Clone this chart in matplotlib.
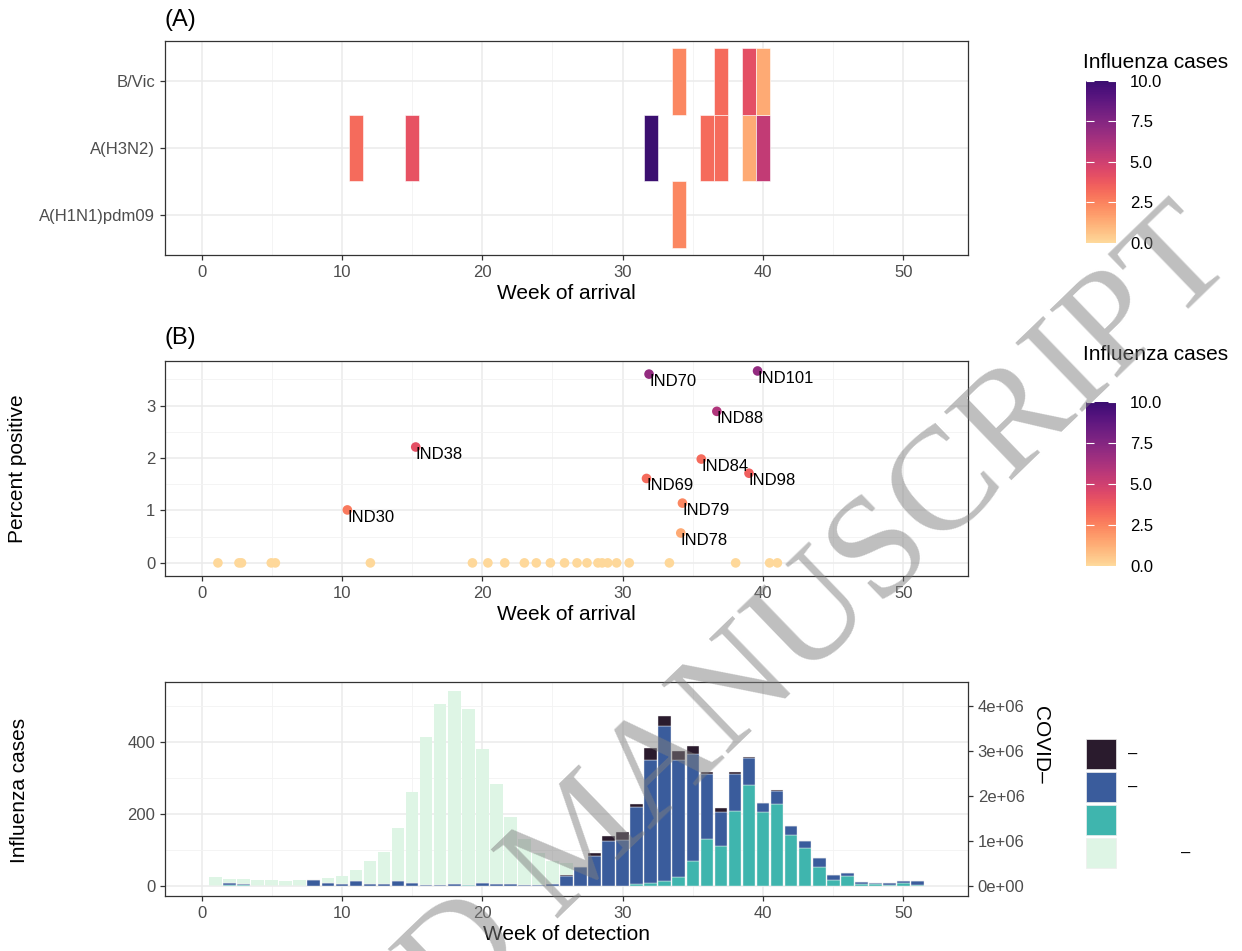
import matplotlib.pyplot as plt
import numpy as np
from matplotlib.colors import ListedColormap, Normalize
from matplotlib.cm import ScalarMappable
from matplotlib.patches import Rectangle

plt.rcParams['font.family'] = ['Liberation Sans', 'DejaVu Sans']

# ---- data ----
# (A) tiles: subtype x week of arrival, filled by number of influenza cases
subtypes = ["A(H1N1)pdm09", "A(H3N2)", "B/Vic"]
tile_subtype = ["A(H1N1)pdm09",
                "A(H3N2)", "A(H3N2)", "A(H3N2)", "A(H3N2)", "A(H3N2)", "A(H3N2)", "A(H3N2)",
                "B/Vic", "B/Vic", "B/Vic", "B/Vic"]
tile_week = [34, 11, 15, 32, 36, 37, 39, 40, 34, 37, 39, 40]
tile_cases = [2.4, 3.2, 4.1, 10, 3.2, 3.2, 1.4, 5.4, 2.4, 3.2, 4.2, 1.4]

# (B) percent positive by week of arrival
pt_week = [1.17, 2.67, 2.85, 4.97, 5.26, 12.03, 19.3, 20.4, 21.6, 23.0, 23.85, 24.85,
           25.86, 26.75, 27.46, 28.24, 28.54, 28.94, 29.57, 30.47, 33.33, 38.05, 40.47, 41.02,
           31.88, 39.61, 36.71, 15.26, 35.6, 39.0, 31.7, 34.26, 10.39, 34.14]
pt_pct = [0] * 24 + [3.6, 3.66, 2.89, 2.21, 1.98, 1.71, 1.61, 1.14, 1.01, 0.57]
pt_cases = [0] * 24 + [7, 7, 6, 4.2, 3.2, 3.6, 3.2, 2.4, 2.8, 1.4]
pt_label = [""] * 24 + ["IND70", "IND101", "IND88", "IND38", "IND84", "IND98",
                        "IND69", "IND79", "IND30", "IND78"]

# (C) weekly detections
weeks = list(range(1, 52))
flu_teal = [0, 3, 2, 0, 0, 0, 0, 0, 0, 0, 0, 0, 0, 0, 0, 0, 0, 0, 2, 0,
            0, 0, 0, 0, 0, 0, 0, 0, 0, 0, 5, 9, 15, 26, 69, 132, 112, 208, 281, 206,
            227, 141, 106, 54, 18, 28, 5, 7, 4, 10, 3]
flu_blue = [0, 5, 3, 0, 0, 0, 0, 18, 9, 7, 13, 5, 6, 15, 9, 4, 4, 5, 0, 8,
            6, 6, 3, 2, 6, 27, 54, 85, 124, 129, 214, 341, 429, 324, 299, 179, 94, 103, 75, 24,
            38, 27, 20, 25, 13, 9, 6, 3, 4, 5, 12]
flu_black = [0, 2, 0, 0, 0, 1, 0, 0, 0, 0, 0, 0, 0, 0, 0, 0, 0, 1, 0, 1,
             0, 0, 0, 1, 1, 5, 0, 6, 14, 21, 9, 33, 29, 26, 20, 5, 12, 5, 2, 2,
             1, 0, 0, 0, 0, 0, 0, 0, 0, 0, 0]
covid = [200000, 168000, 148000, 141000, 126000, 118000, 134000, 136000, 176000, 224000,
         348000, 556000, 760000, 1288000, 2096000, 3312000, 4056000, 4336000, 3936000, 3048000,
         2280000, 1528000, 1056000, 744000, 560000, 504000, 420000, 330000, 250000, 200000,
         160000, 130000, 0, 0, 0, 0, 0, 0, 0, 0,
         0, 0, 0, 0, 0, 0, 0, 0, 0, 0, 0]
covid_scale = 8000

# ---- style ----
W, H = 1242, 951
fig = plt.figure(figsize=(W / 100, H / 100), dpi=100)

cmap = ListedColormap(plt.cm.magma(np.linspace(0.92, 0.2, 256)))
norm = Normalize(0, 10)
c_black, c_blue, c_teal, c_green = "#2A1B2D", "#3A5C9C", "#3FB5AE", "#DEF5E5"

def box(l, t, r, b):
    return [l / W, 1 - b / H, (r - l) / W, (b - t) / H]

def style(ax):
    for s in ax.spines.values():
        s.set_color("#333333")
        s.set_linewidth(0.9)
    ax.tick_params(which="major", color="#333333", labelcolor="#4D4D4D",
                   labelsize=12, length=3.5, width=0.9)
    ax.tick_params(which="minor", length=0)
    ax.grid(which="major", color="#EBEBEB", lw=1.1)
    ax.grid(which="minor", color="#F3F3F3", lw=0.6)
    ax.set_axisbelow(True)
    ax.set_xlim(-2.6, 54.6)
    ax.set_xticks([0, 10, 20, 30, 40, 50])
    ax.set_xticks([5, 15, 25, 35, 45], minor=True)

def colorbar(top, bottom, title_y):
    cax = fig.add_axes(box(1086, top, 1116, bottom))
    cb = fig.colorbar(ScalarMappable(norm=norm, cmap=cmap), cax=cax)
    cb.outline.set_visible(False)
    cb.set_ticks([0, 2.5, 5, 7.5, 10])
    cb.set_ticklabels(["0.0", "2.5", "5.0", "7.5", "10.0"])
    cax.tick_params(left=True, right=True, direction="in", length=6, width=0.8,
                    color="white", labelsize=12, labelcolor="black", pad=10)
    fig.text(1083 / W, 1 - title_y / H, "Influenza cases", fontsize=15,
             ha="left", va="center")

# ---- (A) ----
axA = fig.add_axes(box(165, 41, 968, 255))
style(axA)
ypos = {s: i + 1 for i, s in enumerate(subtypes)}
for s, w, c in zip(tile_subtype, tile_week, tile_cases):
    axA.bar(w, 1.0, width=1.0, bottom=ypos[s] - 0.5, color=cmap(norm(c)),
            edgecolor="white", linewidth=0.4)
axA.set_ylim(0.4, 3.6)
axA.set_yticks([1, 2, 3])
axA.set_yticklabels(subtypes)
axA.set_xlabel("Week of arrival", fontsize=15, labelpad=3)
fig.text(165 / W, 1 - 20 / H, "(A)", fontsize=17, ha="left", va="center")
colorbar(81, 243, 62)

# ---- (B) ----
axB = fig.add_axes(box(165, 361, 968, 576))
style(axB)
axB.scatter(pt_week, pt_pct, c=pt_cases, cmap=cmap, norm=norm, s=48,
            linewidths=0, zorder=3)
for x, y, lab in zip(pt_week, pt_pct, pt_label):
    if lab:
        axB.text(x, y, lab, fontsize=12, ha="left", va="top", zorder=4)
axB.set_ylim(-0.25, 3.85)
axB.set_yticks([0, 1, 2, 3])
axB.set_yticks([0.5, 1.5, 2.5, 3.5], minor=True)
axB.set_xlabel("Week of arrival", fontsize=15, labelpad=3)
fig.text(165 / W, 1 - 338 / H, "(B)", fontsize=17, ha="left", va="center")
fig.text(18 / W, 1 - 469 / H, "Percent positive", fontsize=15, rotation=90,
         ha="center", va="center")
colorbar(402, 566, 355)

# ---- (C) ----
axC = fig.add_axes(box(165, 682, 968, 896))
style(axC)
axC.bar(weeks, np.array(covid) / covid_scale, width=0.9, color=c_green, zorder=2)
teal = np.array(flu_teal)
blue = np.array(flu_blue)
black = np.array(flu_black)
axC.bar(weeks, teal, width=0.9, color=c_teal, edgecolor="#F0F0F0", linewidth=0.3, zorder=3)
axC.bar(weeks, blue, width=0.9, bottom=teal, color=c_blue, edgecolor="#F0F0F0",
        linewidth=0.3, zorder=3)
axC.bar(weeks, black, width=0.9, bottom=teal + blue, color=c_black, edgecolor="#F0F0F0",
        linewidth=0.3, zorder=3)
axC.set_ylim(-27.5, 567)
axC.set_yticks([0, 200, 400])
axC.set_yticks([100, 300, 500], minor=True)
axC.set_xlabel("Week of detection", fontsize=15, labelpad=3)
sec = axC.secondary_yaxis("right", functions=(lambda y: y * covid_scale,
                                               lambda y: y / covid_scale))
sec.set_yticks([0, 1e6, 2e6, 3e6, 4e6])
sec.set_yticklabels(["0e+00", "1e+06", "2e+06", "3e+06", "4e+06"])
sec.spines["right"].set_visible(False)
sec.tick_params(color="#333333", labelcolor="#4D4D4D", labelsize=12, length=3.5, width=0.9)
fig.text(20 / W, 1 - 790 / H, "Influenza cases", fontsize=15, rotation=90,
         ha="center", va="center")
fig.text(1040 / W, 1 - 706 / H, "COVID\u2013", fontsize=15, rotation=270,
         ha="center", va="top")

# legend of panel C
keys = [(739, c_black, "\u2013", 1128), (772, c_blue, "\u2013", 1128),
        (805, c_teal, "", 1128), (838, c_green, "\u2013", 1181)]
for top, col, lab, lx in keys:
    fig.add_artist(Rectangle((1086 / W, 1 - (top + 30) / H), 30 / W, 30 / H,
                             transform=fig.transFigure, facecolor=col,
                             edgecolor="#EEEEEE", linewidth=0.5))
    if lab:
        fig.text(lx / W, 1 - (top + 15) / H, lab, fontsize=12, ha="left", va="center")

# watermark
fig.text(1238 / W, 1 - 262 / H, "ACCEPTED MANUSCRIPT", fontsize=106,
         family="Liberation Serif", color="#7F7F7F", alpha=0.5, rotation=44,
         rotation_mode="anchor", ha="right", va="baseline", zorder=10)

fig.savefig("out.png", dpi=100)
